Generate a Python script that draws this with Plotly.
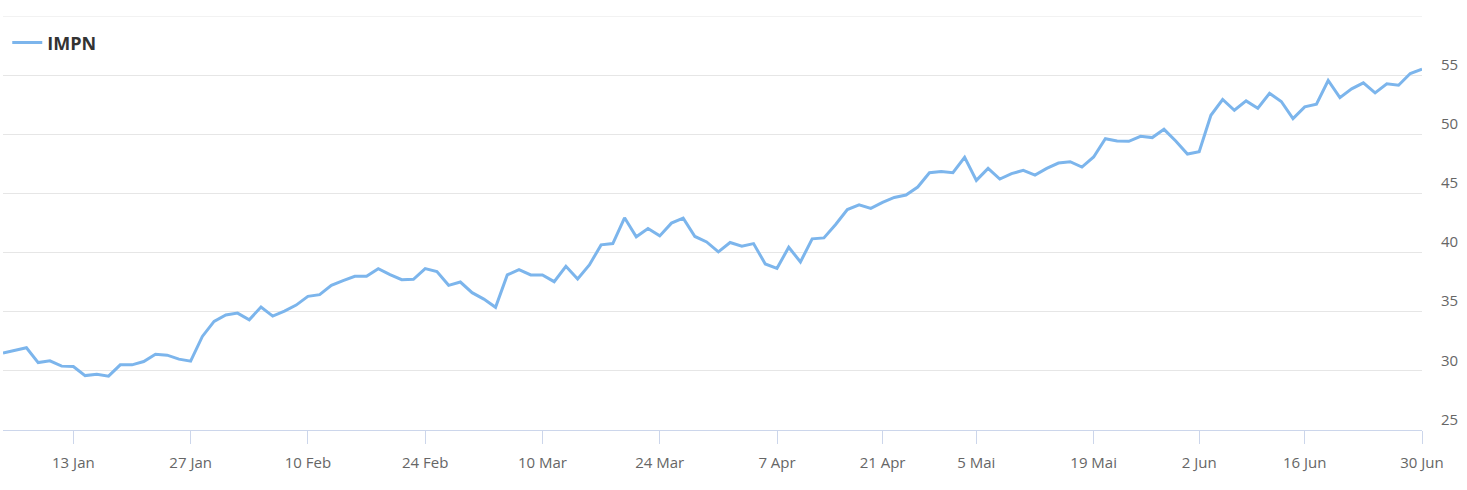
import pandas as pd
import plotly.graph_objects as go

# SIX trading days, 3 Jan - 30 Jun 2025
holidays = ["2025-04-18", "2025-04-21", "2025-05-01", "2025-05-29", "2025-06-09"]
dates = [d.strftime("%Y-%m-%d") for d in pd.bdate_range("2025-01-03", "2025-06-30")
         if d.strftime("%Y-%m-%d") not in holidays]

impn = [
    31.50, 31.75, 31.95, 30.70, 30.85, 30.40, 30.37, 29.60, 29.72, 29.55,
    30.51, 30.51, 30.79, 31.41, 31.33, 30.99, 30.82, 32.91, 34.18, 34.72,
    34.88, 34.32, 35.40, 34.63, 35.05, 35.56, 36.30, 36.44, 37.23, 37.63,
    37.99, 37.99, 38.64, 38.14, 37.71, 37.74, 38.64, 38.39, 37.23, 37.51,
    36.61, 36.07, 35.37, 38.11, 38.56, 38.11, 38.11, 37.54, 38.84, 37.77,
    38.95, 40.65, 40.76, 42.94, 41.33, 42.03, 41.41, 42.49, 42.91, 41.36,
    40.90, 40.06, 40.85, 40.54, 40.76, 39.04, 38.67, 40.45, 39.21, 41.16,
    41.24, 42.37, 43.64, 44.04, 43.73, 44.24, 44.66, 44.86, 45.54, 46.75,
    46.86, 46.75, 48.05, 46.10, 47.12, 46.22, 46.67, 46.95, 46.55, 47.12,
    47.57, 47.68, 47.23, 48.08, 49.63, 49.43, 49.41, 49.83, 49.72, 50.42,
    49.43, 48.33, 48.52, 51.61, 52.94, 52.03, 52.82, 52.20, 53.47, 52.77,
    51.33, 52.32, 52.54, 54.55, 53.10, 53.84, 54.35, 53.50, 54.27, 54.15,
    55.14, 55.51,
]

x_tick_dates = ["2025-01-13", "2025-01-27", "2025-02-10", "2025-02-24", "2025-03-10",
                "2025-03-24", "2025-04-07", "2025-04-22", "2025-05-05", "2025-05-19",
                "2025-06-02", "2025-06-16", "2025-06-30"]
x_tick_labels = ["13 Jan", "27 Jan", "10 Feb", "24 Feb", "10 Mar", "24 Mar", "7 Apr",
                 "21 Apr", "5 Mai", "19 Mai", "2 Jun", "16 Jun", "30 Jun"]
y_tick_vals = [25, 30, 35, 40, 45, 50, 55, 60]
y_tick_labels = ["25", "30", "35", "40", "45", "50", "55", ""]
y_max = 60

fig = go.Figure()
fig.add_trace(go.Scatter(
    x=dates, y=impn, mode="lines", name="IMPN",
    line=dict(color="#7cb5ec", width=3),
))

# top grid line (plotly drops the gridline that sits on the plot edge)
fig.add_hline(y=y_max, line=dict(color="#e6e6e6", width=1), layer="below")

fig.update_layout(
    width=1467, height=490,
    margin=dict(l=3, r=45, t=16, b=60),
    paper_bgcolor="white", plot_bgcolor="white",
    font=dict(family="Open Sans", size=15, color="#666666"),
    showlegend=True,
    legend=dict(x=0.003, y=0.98, xanchor="left", yanchor="top",
                bgcolor="rgba(0,0,0,0)",
                font=dict(family="Open Sans", size=18, color="#333333", weight="bold")),
    xaxis=dict(
        type="category",
        range=[0, len(dates) - 1],
        tickmode="array", tickvals=x_tick_dates, ticktext=x_tick_labels,
        showgrid=False, zeroline=False,
        showline=True, linecolor="#ccd6eb", linewidth=1,
        ticks="outside", ticklen=13, tickcolor="#ccd6eb", tickwidth=1,
        ticklabelstandoff=6,
        tickfont=dict(family="Open Sans", size=15, color="#666666"),
    ),
    yaxis=dict(
        side="right",
        range=[25, y_max],
        tickmode="array", tickvals=y_tick_vals, ticktext=y_tick_labels,
        showgrid=True, gridcolor="#e6e6e6", gridwidth=1,
        zeroline=False, showline=False, ticks="",
        ticklabelposition="outside top",
        ticklabelstandoff=18,
        tickfont=dict(family="Open Sans", size=15, color="#666666"),
    ),
)

fig.write_html("out.html",
               config={"displayModeBar": False},
               post_script="document.body.style.margin='0';document.body.style.padding='0';")
